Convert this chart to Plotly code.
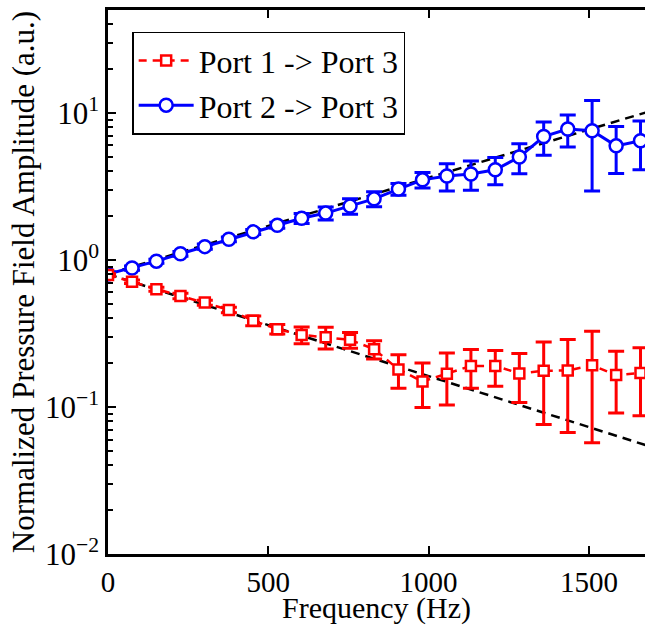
import plotly.graph_objects as go

# Frequencies (Hz)
freq = [0, 75, 151, 226, 302, 377, 453, 528, 604, 679, 755, 830, 906, 981,
        1057, 1132, 1208, 1283, 1359, 1434, 1510, 1585, 1661]

# Port 1 -> Port 3 (red squares)
p13 = [0.79, 0.71, 0.632, 0.569, 0.512, 0.457, 0.386, 0.338, 0.309, 0.298, 0.286,
       0.247, 0.180, 0.149, 0.168, 0.190, 0.190, 0.169, 0.176, 0.177, 0.192, 0.165, 0.170]
p13_err = [0.015, 0.02, 0.02, 0.025, 0.02, 0.02, 0.03, 0.025, 0.04, 0.05, 0.035,
           0.035, 0.046, 0.05, 0.065, 0.056, 0.052, 0.062, 0.10, 0.11, 0.135, 0.074, 0.083]

# Port 2 -> Port 3 (blue circles)
p23 = [0.80, 0.88, 0.98, 1.10, 1.23, 1.38, 1.55, 1.72, 1.92, 2.08, 2.32,
       2.60, 3.03, 3.50, 3.72, 3.84, 4.10, 5.00, 6.90, 7.75, 7.54, 5.96, 6.45]
p23_err = [0.02, 0.03, 0.03, 0.04, 0.05, 0.05, 0.06, 0.08, 0.15, 0.21, 0.28,
           0.30, 0.28, 0.42, 0.78, 0.87, 0.86, 1.15, 1.75, 1.90, 4.60, 2.10, 2.35]

# Theoretical (dashed black) curves, read at a few frequencies
fit_freq = [0, 500, 1000, 1500, 1700]
fit_up = [0.80, 1.70, 3.60, 7.70, 10.4]
fit_down = [0.80, 0.36, 0.162, 0.073, 0.053]

ytick_vals = [0.01, 0.1, 1, 10]
ytick_text = ["10<sup>−2</sup>", "10<sup>−1</sup>", "10<sup>0</sup>", "10<sup>1</sup>"]
yminor_vals = [0.02, 0.03, 0.04, 0.05, 0.06, 0.07, 0.08, 0.09,
               0.2, 0.3, 0.4, 0.5, 0.6, 0.7, 0.8, 0.9,
               2, 3, 4, 5, 6, 7, 8, 9, 20, 30, 40]
xtick_vals = [0, 500, 1000, 1500]

FONT = "Liberation Serif, 'Times New Roman', serif"

fig = go.Figure()
for yy in (fit_up, fit_down):
    fig.add_trace(go.Scatter(x=fit_freq, y=yy, mode="lines",
                             line=dict(color="black", width=2.5, dash="9px,6px"),
                             showlegend=False, hoverinfo="skip"))

fig.add_trace(go.Scatter(
    x=freq, y=p23, mode="lines+markers", name="Port 2 -> Port 3",
    legendrank=2,
    line=dict(color="#0000ff", width=3),
    marker=dict(symbol="circle", size=13, color="white",
                line=dict(color="#0000ff", width=2.5)),
    error_y=dict(type="data", array=p23_err, color="#0000ff", thickness=3, width=8)))

fig.add_trace(go.Scatter(
    x=freq, y=p13, mode="lines+markers", name="Port 1 -> Port 3",
    legendrank=1,
    line=dict(color="#ff0000", width=2.5, dash="8px,6px"),
    marker=dict(symbol="square", size=10, color="white",
                line=dict(color="#ff0000", width=2.5)),
    error_y=dict(type="data", array=p13_err, color="#ff0000", thickness=3, width=8)))

fig.add_annotation(text="Frequency (Hz)", xref="paper", yref="paper",
                   x=0.5, y=-0.1, xanchor="center", yanchor="middle",
                   showarrow=False, font=dict(family=FONT, size=30, color="black"))

fig.update_layout(
    width=645, height=625,
    margin=dict(l=108, r=0, t=10, b=71),
    paper_bgcolor="white", plot_bgcolor="white",
    font=dict(family=FONT, size=30, color="black"),
    legend=dict(x=0.045, y=0.96, xanchor="left", yanchor="top",
                bordercolor="black", borderwidth=1.5, bgcolor="white",
                font=dict(family=FONT, size=32), tracegroupgap=0,
                itemwidth=55),
    xaxis=dict(range=[0, 1675], tickvals=xtick_vals, showgrid=False, zeroline=False,
               showline=True, linecolor="black", linewidth=2.5, mirror="ticks",
               ticks="inside", ticklen=8, tickwidth=2, tickcolor="black",
               tickfont=dict(family=FONT, size=29)),
    yaxis=dict(type="log", range=[-2, 1.699], tickvals=ytick_vals, ticktext=ytick_text,
               showgrid=False, zeroline=False, showline=True, linecolor="black",
               linewidth=2.5, ticks="inside", ticklen=8, tickwidth=2, tickcolor="black",
               minor=dict(ticks="inside", ticklen=5, tickwidth=2, tickcolor="black",
                          tickmode="array", tickvals=yminor_vals, showgrid=False),
               title=dict(text="Normalized Pressure Field Amplitude (a.u.)",
                          font=dict(family=FONT, size=31), standoff=2),
               tickfont=dict(family=FONT, size=31)),
)

fig.write_html("out.html", config={"displayModeBar": False},
               post_script="document.body.style.margin='0';document.body.style.overflow='hidden';")
